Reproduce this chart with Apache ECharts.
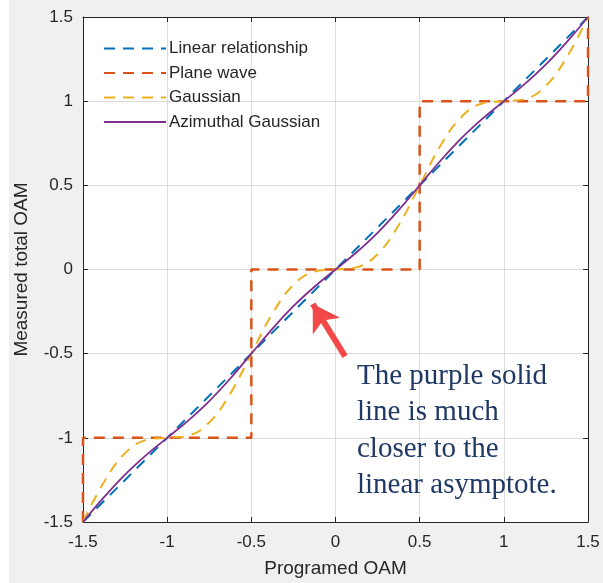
<!DOCTYPE html>
<html>
<head>
<meta charset="utf-8">
<script src="https://cdn.jsdelivr.net/npm/echarts@6/dist/echarts.min.js"></script>
<style>
html,body{margin:0;padding:0;background:#f0f0f0;}
#chart{width:603px;height:583px;}
</style>
</head>
<body>
<div id="chart"></div>
<script>
// ---- data ----
const xTicks = [-1.5, -1, -0.5, 0, 0.5, 1, 1.5];
const linearX = [-1.5, 1.5];
const linearY = [-1.5, 1.5];
const planeX = [-1.5, -1.5, -0.5, -0.5, 0.5, 0.5, 1.5, 1.5];
const planeY = [-1.5, -1, -1, 0, 0, 1, 1, 1.5];
const curveX = [-1.5,-1.375,-1.25,-1.125,-1,-0.875,-0.75,-0.625,-0.5,-0.375,-0.25,-0.125,0,0.125,0.25,0.375,0.5,0.625,0.75,0.875,1,1.125,1.25,1.375,1.5];
const gaussY = [-1.5,-1.2625,-1.0908,-1.0125,-1,-0.9875,-0.9092,-0.7375,-0.5,-0.2625,-0.0908,-0.0125,0,0.0125,0.0908,0.2625,0.5,0.7375,0.9092,0.9875,1,1.0125,1.0908,1.2625,1.5];
const azGaussY = [-1.5,-1.3525,-1.2182,-1.1025,-1,-0.8975,-0.7818,-0.6475,-0.5,-0.3525,-0.2182,-0.1025,0,0.1025,0.2182,0.3525,0.5,0.6475,0.7818,0.8975,1,1.1025,1.2182,1.3525,1.5];
const seriesNames = ['Linear relationship', 'Plane wave', 'Gaussian', 'Azimuthal Gaussian'];
const arrowFrom = [0.057, -0.516];
const arrowTo = [-0.135, -0.205];
const noteLines = ['The purple solid', 'line is much', 'closer to the', 'linear asymptote.'];

function pairs(xs, ys){ return xs.map((x,i)=>[x, ys[i]]); }

const chart = echarts.init(document.getElementById('chart'), null, {renderer:'canvas'});
const axisColor = '#262626';
const font = 'Liberation Sans, Arial, sans-serif';

function mainAxis(pos, showName, name){
  return {
    type:'value', position:pos, min:-1.5, max:1.5, interval:0.5,
    name: showName ? name : '', nameLocation:'middle',
    nameTextStyle:{fontFamily:font, fontSize:19, color:axisColor},
    axisLine:{show:true, onZero:false, lineStyle:{color:axisColor, width:1}},
    axisTick:{show:true, inside:true, length:5, lineStyle:{color:axisColor}},
    axisLabel:{show:showName, fontFamily:font, fontSize:17, color:axisColor},
    splitLine:{show:showName, lineStyle:{color:'#dcdcdc', width:1}}
  };
}
const xa = mainAxis('bottom', true, 'Programed OAM'); xa.nameGap = 37; xa.axisLabel.margin = 12;
const ya = mainAxis('left', true, 'Measured total OAM'); ya.nameGap = 52; ya.axisLabel.margin = 10;
const xb = mainAxis('top', false, '');
const yb = mainAxis('right', false, '');

chart.setOption({
  backgroundColor:'#f0f0f0',
  animation:false,
  grid:{left:83, top:17, right:15, bottom:60, show:true, backgroundColor:'#ffffff', borderWidth:0},
  xAxis:[xa, xb],
  yAxis:[ya, yb],
  legend:{
    data: seriesNames, orient:'vertical', left:98, top:35,
    itemWidth:62, itemHeight:14, itemGap:7.5,
    textStyle:{fontFamily:font, fontSize:17, color:axisColor, padding:[0,0,0,-2]},
    itemStyle:{opacity:0}
  },
  series:[
    {name:seriesNames[0], type:'line', data:pairs(linearX, linearY), showSymbol:false, symbol:'none',
     lineStyle:{color:'#0072BD', width:2, type:[11,8]}, itemStyle:{color:'#0072BD'}},
    {name:seriesNames[1], type:'line', data:pairs(planeX, planeY), showSymbol:false, symbol:'none',
     lineStyle:{color:'#D95319', width:2.5, type:[11,8]}, itemStyle:{color:'#D95319'}},
    {name:seriesNames[2], type:'line', data:pairs(curveX, gaussY), showSymbol:false, symbol:'none', smooth:0.4,
     lineStyle:{color:'#EDB120', width:2, type:[11,8]}, itemStyle:{color:'#EDB120'}},
    {name:seriesNames[3], type:'line', data:pairs(curveX, azGaussY), showSymbol:false, symbol:'none', smooth:0.4,
     lineStyle:{color:'#7E2F8E', width:1.8, type:'solid'}, itemStyle:{color:'#7E2F8E'}},
    {type:'line', data:[], silent:true,
     markLine:{silent:true, animation:false, symbol:['none','arrow'], symbolSize:[24,26], label:{show:false},
       lineStyle:{color:'#F24848', width:6, type:'solid'},
       data:[[{coord:arrowFrom},{coord:arrowTo}]]}}
  ],
  graphic:[
    {type:'rect', left:0, top:0, shape:{width:9, height:583}, style:{fill:'#ffffff'}, silent:true},
    {type:'text', left:357, top:358, silent:true, z:100,
     style:{text:noteLines.join('\n'), font:'29px "Liberation Serif", "Times New Roman", serif', fill:'#1F3864', lineHeight:36.5}}
  ]
});
</script>
</body>
</html>
